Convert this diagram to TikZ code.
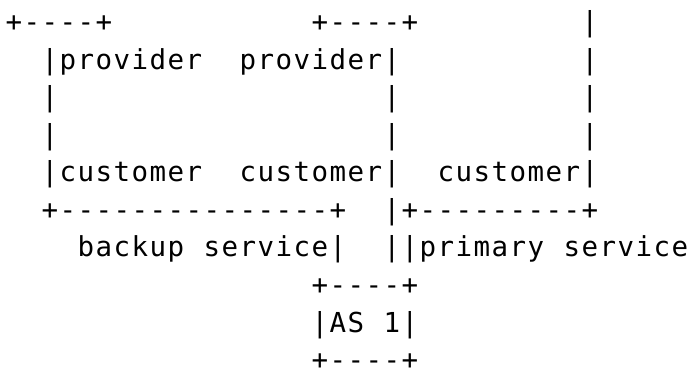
\documentclass[tikz,border=0pt]{standalone}
\usepackage{fontspec}
\newfontfamily\asciifont{DejaVu Sans Mono}
\makeatletter
\newcommand\cellrow[1]{\@tfor\cc:=#1\do{\makebox[18pt][c]{\cc}}}
\makeatother
\begin{document}
\begin{tikzpicture}[x=1pt,y=-1pt,
  asciiline/.style={anchor=base west, inner sep=0pt, outer sep=0pt,
    font=\asciifont\fontsize{27.5}{30}\selectfont, text=black, text depth=0pt}]
\fill[white] (0,0) rectangle (693,371);
\useasboundingbox (0,0) rectangle (693,371);
\node[asciiline] (l1)  at (5,32)    {\cellrow{+----+~~~~~~~~~~~+----+~~~~~~~~~|}};
\node[asciiline] (l2)  at (5,69.5)  {\cellrow{~~|provider~~provider|~~~~~~~~~~|}};
\node[asciiline] (l3)  at (5,107)   {\cellrow{~~|~~~~~~~~~~~~~~~~~~|~~~~~~~~~~|}};
\node[asciiline] (l4)  at (5,144.5) {\cellrow{~~|~~~~~~~~~~~~~~~~~~|~~~~~~~~~~|}};
\node[asciiline] (l5)  at (5,182)   {\cellrow{~~|customer~~customer|~~customer|}};
\node[asciiline] (l6)  at (5,219.5) {\cellrow{~~+---------------+~~|+---------+}};
\node[asciiline] (l7)  at (5,257)   {\cellrow{~~~~backup~service|~~||primary~service}};
\node[asciiline] (l8)  at (5,294.5) {\cellrow{~~~~~~~~~~~~~~~~~+----+}};
\node[asciiline] (l9)  at (5,332)   {\cellrow{~~~~~~~~~~~~~~~~~|AS~1|}};
\node[asciiline] (l10) at (5,369)   {\cellrow{~~~~~~~~~~~~~~~~~+----+}};
\end{tikzpicture}
\end{document}
